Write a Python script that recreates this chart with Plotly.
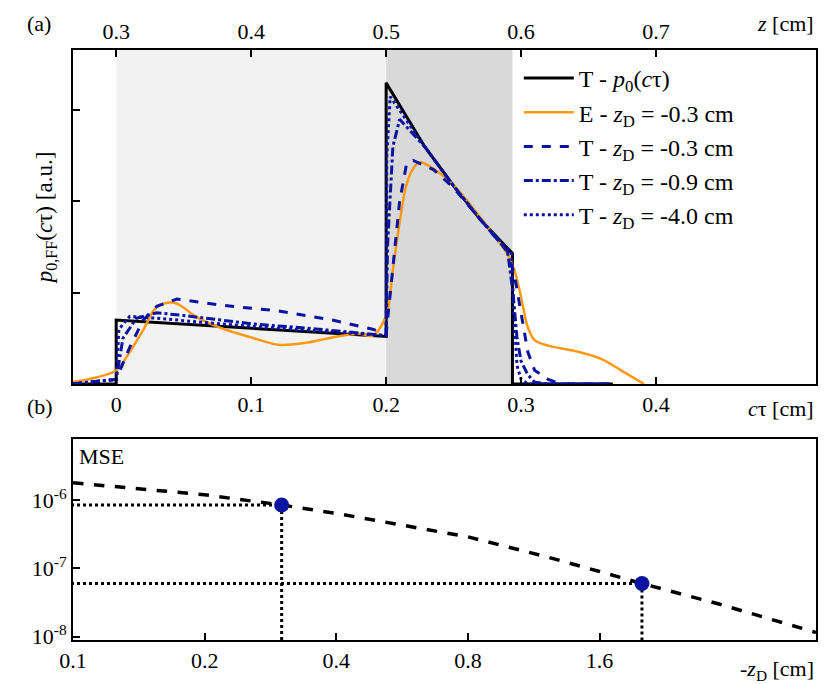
import plotly.graph_objects as go

# Panel (a) data: c*tau [cm] vs p0,FF [a.u.]
t_x = [-0.032, 0.0, 0.0, 0.2, 0.2, 0.2286, 0.25, 0.27, 0.2936, 0.2936, 0.368]
t_y = [0.0, 0.0, 0.70, 0.52, 3.30, 2.60, 2.17, 1.80, 1.43, 0.0, 0.0]

e_x = [-0.032, -0.015, 0.0, 0.01, 0.02, 0.03, 0.043, 0.06, 0.08, 0.1, 0.12, 0.14, 0.16, 0.18, 0.19, 0.2,
       0.205, 0.21, 0.215, 0.22, 0.225, 0.235, 0.25, 0.27, 0.29, 0.295, 0.30, 0.305, 0.31, 0.32, 0.34,
       0.36, 0.375, 0.391]
e_y = [0.02, 0.07, 0.15, 0.35, 0.59, 0.84, 0.89, 0.73, 0.60, 0.51, 0.43, 0.45, 0.51, 0.55, 0.53, 0.75,
       1.25, 1.77, 2.18, 2.36, 2.43, 2.36, 2.18, 1.82, 1.42, 1.25, 0.95, 0.62, 0.48, 0.42, 0.36,
       0.27, 0.14, 0.0]

d03_x = [-0.032, 0.0, 0.01, 0.02, 0.03, 0.045, 0.08, 0.12, 0.16, 0.19, 0.2, 0.203, 0.21, 0.215, 0.22,
         0.235, 0.25, 0.27, 0.29, 0.295, 0.30, 0.305, 0.31, 0.32, 0.33, 0.37]
d03_y = [0.0, 0.05, 0.40, 0.70, 0.85, 0.93, 0.86, 0.80, 0.70, 0.60, 0.55, 1.0, 2.0, 2.4, 2.45,
         2.35, 2.15, 1.80, 1.45, 1.20, 0.75, 0.35, 0.15, 0.05, 0.0, 0.0]

d09_x = [-0.032, 0.0, 0.005, 0.015, 0.03, 0.05, 0.1, 0.15, 0.2, 0.201, 0.205, 0.21, 0.2286, 0.25, 0.27,
         0.29, 0.294, 0.297, 0.30, 0.305, 0.31, 0.32, 0.365]
d09_y = [0.0, 0.05, 0.50, 0.72, 0.78, 0.75, 0.66, 0.60, 0.53, 1.5, 2.6, 2.9, 2.6, 2.17, 1.80,
         1.45, 1.0, 0.5, 0.25, 0.1, 0.02, 0.0, 0.0]

d40_x = [-0.032, 0.0, 0.002, 0.01, 0.03, 0.1, 0.2, 0.2005, 0.203, 0.21, 0.2286, 0.25, 0.27, 0.293,
         0.2945, 0.297, 0.30, 0.305, 0.365]
d40_y = [0.0, 0.05, 0.60, 0.74, 0.72, 0.63, 0.53, 2.5, 3.15, 3.0, 2.6, 2.17, 1.80, 1.43,
         0.8, 0.2, 0.05, 0.0, 0.0]

# Panel (b) data: -z_D [cm] vs MSE
mse_x = [0.1, 0.2, 0.3, 0.4, 0.8, 1.2, 1.6, 2.0, 3.0, 5.0]
mse_y = [1.8e-6, 1.2e-6, 8.5e-7, 6.4e-7, 2.9e-7, 1.5e-7, 9.0e-8, 6.0e-8, 3.0e-8, 1.15e-8]
pt_x = [0.3, 2.0]
pt_y = [8.5e-7, 6.0e-8]

BLUE = "#0a14a0"
ORANGE = "#ff9914"
FONT = "Liberation Serif, Times New Roman, DejaVu Serif, serif"

fig = go.Figure()
fig.add_trace(go.Scatter(x=t_x, y=t_y, mode="lines", line=dict(color="black", width=3),
                         name="T - <i>p</i><sub>0</sub>(<i>c</i>τ)", xaxis="x", yaxis="y"))
fig.add_trace(go.Scatter(x=e_x, y=e_y, mode="lines", line=dict(color=ORANGE, width=2.5, shape="spline"),
                         name="E - <i>z</i><sub>D</sub> = -0.3 cm", xaxis="x", yaxis="y"))
fig.add_trace(go.Scatter(x=d03_x, y=d03_y, mode="lines", line=dict(color=BLUE, width=3, dash="dash"),
                         name="T - <i>z</i><sub>D</sub> = -0.3 cm", xaxis="x", yaxis="y"))
fig.add_trace(go.Scatter(x=d09_x, y=d09_y, mode="lines", line=dict(color=BLUE, width=3, dash="dashdot"),
                         name="T - <i>z</i><sub>D</sub> = -0.9 cm", xaxis="x", yaxis="y"))
fig.add_trace(go.Scatter(x=d40_x, y=d40_y, mode="lines", line=dict(color=BLUE, width=3, dash="dot"),
                         name="T - <i>z</i><sub>D</sub> = -4.0 cm", xaxis="x", yaxis="y"))

fig.add_trace(go.Scatter(x=[0.3], y=[0], mode="markers", marker=dict(opacity=0), showlegend=False,
                         hoverinfo="skip", xaxis="x3", yaxis="y"))

for px, py in zip(pt_x, pt_y):
    fig.add_trace(go.Scatter(x=[0.09, px], y=[py, py], mode="lines", line=dict(color="black", width=3, dash="dot"),
                             showlegend=False, xaxis="x2", yaxis="y2"))
    fig.add_trace(go.Scatter(x=[px, px], y=[py, 5e-9], mode="lines", line=dict(color="black", width=3, dash="dot"),
                             showlegend=False, xaxis="x2", yaxis="y2"))
fig.add_trace(go.Scatter(x=mse_x, y=mse_y, mode="lines", line=dict(color="black", width=3.5, dash="dash"),
                         showlegend=False, xaxis="x2", yaxis="y2"))
fig.add_trace(go.Scatter(x=pt_x, y=pt_y, mode="markers", marker=dict(color=BLUE, size=15),
                         showlegend=False, xaxis="x2", yaxis="y2"))

fig.add_shape(type="rect", xref="x", yref="y domain", x0=0, x1=0.2, y0=0, y1=1,
              fillcolor="#f2f2f2", line_width=0, layer="below")
fig.add_shape(type="rect", xref="x", yref="y domain", x0=0.2, x1=0.2936, y0=0, y1=1,
              fillcolor="#d9d9d9", line_width=0, layer="below")

axcommon = dict(showgrid=False, zeroline=False, showline=True, linecolor="black", linewidth=2,
                ticks="inside", tickcolor="black", tickwidth=1.5, ticklen=7,
                tickfont=dict(size=22, family=FONT, color="black"))

fig.update_layout(
    width=830, height=684, margin=dict(l=65, r=22, t=42, b=52),
    paper_bgcolor="white", plot_bgcolor="white",
    font=dict(family=FONT, color="black", size=22),
    xaxis=dict(**axcommon, range=[-0.032, 0.5185], tickvals=[0, 0.1, 0.2, 0.3, 0.4],
               ticktext=["0", "0.1", "0.2", "0.3", "0.4"], anchor="y", mirror=True),
    yaxis=dict(**axcommon, range=[0, 3.66], tickvals=[1, 2, 3], showticklabels=False,
               domain=[0.434, 1.0], anchor="x", mirror=True,
               title=dict(text="<i>p</i><sub>0,FF</sub>(<i>c</i>τ) [a.u.]", font=dict(size=23, family=FONT), standoff=12)),
    xaxis3=dict(**axcommon, range=[0.268, 0.8185], tickvals=[0.3, 0.4, 0.5, 0.6, 0.7],
                ticktext=["0.3", "0.4", "0.5", "0.6", "0.7"], overlaying="x", side="top", anchor="y"),
    xaxis2=dict(**axcommon, type="log", range=[-1.0, 0.699], tickvals=[0.1, 0.2, 0.4, 0.8, 1.6],
                ticktext=["0.1", "0.2", "0.4", "0.8", "1.6"], anchor="y2", mirror=True),
    yaxis2=dict(**axcommon, type="log", range=[-8.05, -5.1], tickvals=[1e-8, 1e-7, 1e-6],
                ticktext=["10<sup>-8</sup>", "10<sup>-7</sup>", "10<sup>-6</sup>"],
                domain=[0.0, 0.341], anchor="x2", mirror=True),
    legend=dict(x=0.6, y=0.99, xanchor="left", yanchor="top", bgcolor="rgba(0,0,0,0)",
                font=dict(size=24, family=FONT), tracegroupgap=0, itemwidth=50),
    showlegend=True,
)

ann = dict(showarrow=False, font=dict(size=22, family=FONT, color="black"))
anns = [
    dict(text="(a)", x=-0.065, y=1.045, xanchor="left", yanchor="middle"),
    dict(text="(b)", x=-0.065, y=0.395, xanchor="left", yanchor="middle"),
    dict(text="<i>z</i> [cm]", x=1.0, y=1.045, xanchor="right", yanchor="middle"),
    dict(text="<i>c</i>τ [cm]", x=1.0, y=0.392, xanchor="right", yanchor="middle"),
    dict(text="-<i>z</i><sub>D</sub> [cm]", x=1.0, y=-0.05, xanchor="right", yanchor="middle"),
    dict(text="MSE", x=0.005, y=0.335, xanchor="left", yanchor="top"),
]
for a in anns:
    fig.add_annotation(xref="paper", yref="paper", **a, **ann)

fig.write_html("out.html")
